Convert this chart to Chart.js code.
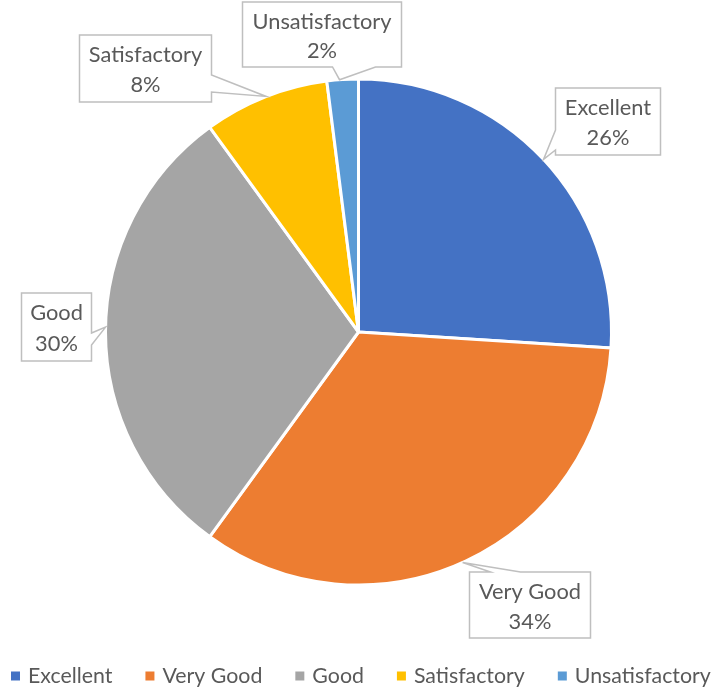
<!DOCTYPE html>
<html>
<head>
<meta charset="utf-8">
<script src="https://cdn.jsdelivr.net/npm/chart.js@4/dist/chart.umd.min.js"></script>
<style>
  html, body { margin: 0; padding: 0; background: #fff; }
  #wrap { width: 719px; height: 689px; position: relative; }
</style>
</head>
<body>
<div id="wrap"><canvas id="c" width="719" height="689"></canvas></div>
<script>
// ---- data ----
const categories = ['Excellent', 'Very Good', 'Good', 'Satisfactory', 'Unsatisfactory'];
const percentages = [26, 34, 30, 8, 2];
const sliceColors = ['#4472C4', '#ED7D31', '#A5A5A5', '#FFC000', '#5B9BD5'];

// ---- callout placement (relative to pie centre, px) ----
const calloutLayout = [
  { left: 197, top: -244, w: 105, h: 67, edge: 'left',   a: 42, b: 62,  tipAngle: 47 },
  { left: 111, top: 240,  w: 121, h: 66, edge: 'top',    a: 21, b: 51,  tipAngle: 155.7 },
  { left: -337, top: -39, w: 70,  h: 68, edge: 'right',  a: 40, b: 52,  tipAngle: 271.1 },
  { left: -279, top: -297, w: 132, h: 67, edge: 'right', a: 40, b: 57,  tipAngle: 338.6 },
  { left: -116, top: -330, w: 159, h: 65, edge: 'bottom', a: 90, b: 133, tipAngle: 355.7 }
];

const FONT_FAMILY = 'Lato, "Open Sans", sans-serif';
const TEXT_COLOR = '#595959';

function fitFontSize(text, targetWidth, base) {
  const cv = document.createElement('canvas').getContext('2d');
  cv.font = base + 'px ' + FONT_FAMILY;
  const w = cv.measureText(text).width;
  return base * targetWidth / w;
}
const labelFontSize = fitFontSize('Unsatisfactory', 139, 22);
const legendFontSize = fitFontSize('Unsatisfactory', 136, 22);

const calloutPlugin = {
  id: 'callouts',
  afterDatasetsDraw(chart) {
    const ctx = chart.ctx;
    const meta = chart.getDatasetMeta(0);
    const total = percentages.reduce((s, v) => s + v, 0);
    meta.data.forEach((arc, i) => {
      const L = calloutLayout[i];
      const { x: cx, y: cy, outerRadius } = arc.getProps(['x', 'y', 'outerRadius'], true);
      const ang = L.tipAngle * Math.PI / 180;
      const tip = { x: cx + outerRadius * Math.sin(ang), y: cy - outerRadius * Math.cos(ang) };
      const x0 = cx + L.left, y0 = cy + L.top, x1 = x0 + L.w, y1 = y0 + L.h;
      ctx.save();
      ctx.beginPath();
      ctx.moveTo(x0, y0);
      if (L.edge === 'top') { ctx.lineTo(x0 + L.a, y0); ctx.lineTo(tip.x, tip.y); ctx.lineTo(x0 + L.b, y0); }
      ctx.lineTo(x1, y0);
      if (L.edge === 'right') { ctx.lineTo(x1, y0 + L.a); ctx.lineTo(tip.x, tip.y); ctx.lineTo(x1, y0 + L.b); }
      ctx.lineTo(x1, y1);
      if (L.edge === 'bottom') { ctx.lineTo(x0 + L.b, y1); ctx.lineTo(tip.x, tip.y); ctx.lineTo(x0 + L.a, y1); }
      ctx.lineTo(x0, y1);
      if (L.edge === 'left') { ctx.lineTo(x0, y0 + L.b); ctx.lineTo(tip.x, tip.y); ctx.lineTo(x0, y0 + L.a); }
      ctx.closePath();
      ctx.fillStyle = '#ffffff';
      ctx.fill();
      ctx.lineWidth = 1.5;
      ctx.strokeStyle = '#BFBFBF';
      ctx.lineJoin = 'miter';
      ctx.stroke();
      ctx.fillStyle = TEXT_COLOR;
      ctx.font = labelFontSize.toFixed(2) + 'px ' + FONT_FAMILY;
      ctx.textAlign = 'center';
      ctx.textBaseline = 'middle';
      const pct = Math.round(percentages[i] / total * 100) + '%';
      ctx.fillText(categories[i], (x0 + x1) / 2, y0 + L.h * 0.30);
      ctx.fillText(pct, (x0 + x1) / 2, y0 + L.h * 0.75);
      ctx.restore();
    });
  }
};

// legend drawn from the chart's own labels/colours, with Excel-like spacing
const legendPlugin = {
  id: 'excelLegend',
  afterDraw(chart) {
    const ctx = chart.ctx;
    const labels = chart.data.labels;
    const colors = chart.data.datasets[0].backgroundColor;
    const startX = 11, centerY = 676, box = 9, textGap = 8, itemGap = 33;
    ctx.save();
    ctx.font = legendFontSize.toFixed(2) + 'px ' + FONT_FAMILY;
    ctx.textBaseline = 'middle';
    ctx.textAlign = 'left';
    let x = startX;
    labels.forEach((lab, i) => {
      ctx.fillStyle = colors[i];
      ctx.fillRect(x, centerY - box / 2, box, box);
      ctx.fillStyle = TEXT_COLOR;
      ctx.fillText(lab, x + box + textGap, centerY);
      x += box + textGap + ctx.measureText(lab).width + itemGap;
    });
    ctx.restore();
  }
};

new Chart(document.getElementById('c'), {
  type: 'pie',
  data: {
    labels: categories,
    datasets: [{
      data: percentages,
      backgroundColor: sliceColors,
      borderColor: '#ffffff',
      borderWidth: 3,
      radius: 253
    }]
  },
  options: {
    responsive: false,
    animation: false,
    layout: { padding: { top: 0, bottom: 25, left: 0, right: 2 } },
    plugins: {
      tooltip: { enabled: false },
      legend: { display: false }
    }
  },
  plugins: [calloutPlugin, legendPlugin]
});
</script>
</body>
</html>
